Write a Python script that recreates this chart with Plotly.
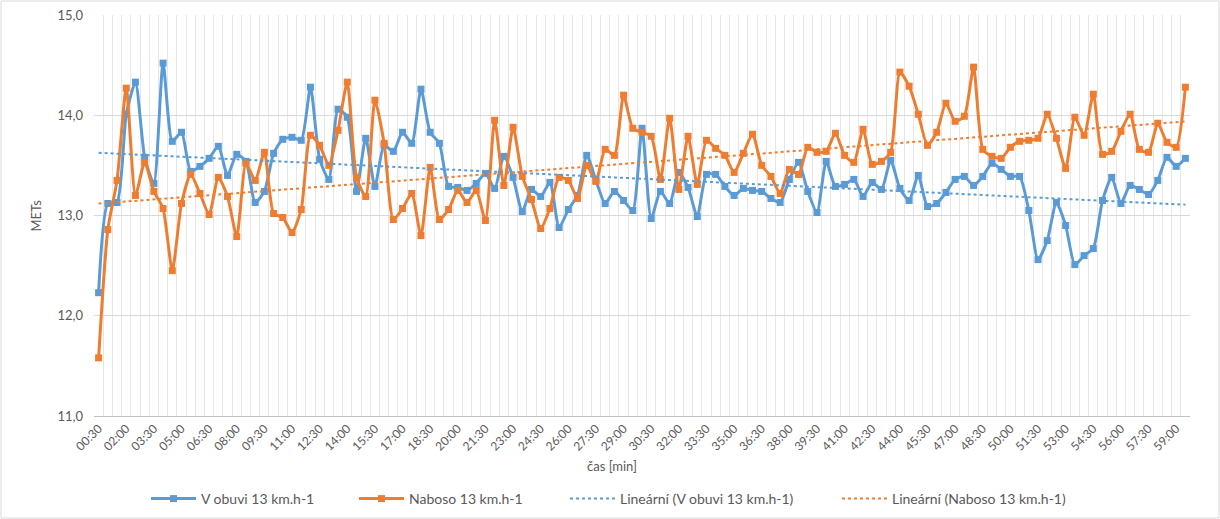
import numpy as np
import plotly.graph_objects as go

# time categories every 30 s from 00:30 to 59:30
times = [f"{(s // 60):02d}:{(s % 60):02d}" for s in range(30, 59 * 60 + 31, 30)]

v_obuvi = [12.23, 13.12, 13.13, 14.01, 14.33, 13.58, 13.32, 14.52, 13.74, 13.83,
           13.44, 13.49, 13.57, 13.69, 13.40, 13.61, 13.54, 13.13, 13.24, 13.62,
           13.76, 13.78, 13.75, 14.28, 13.56, 13.36, 14.06, 13.98, 13.24, 13.77,
           13.29, 13.70, 13.64, 13.83, 13.72, 14.26, 13.83, 13.72, 13.29, 13.28,
           13.25, 13.32, 13.42, 13.27, 13.59, 13.38, 13.04, 13.26, 13.19, 13.33,
           12.88, 13.06, 13.20, 13.60, 13.35, 13.12, 13.24, 13.15, 13.05, 13.87,
           12.97, 13.24, 13.12, 13.43, 13.28, 12.99, 13.41, 13.41, 13.29, 13.20,
           13.27, 13.25, 13.24, 13.17, 13.13, 13.36, 13.53, 13.24, 13.03, 13.54,
           13.29, 13.31, 13.36, 13.19, 13.33, 13.26, 13.55, 13.27, 13.15, 13.40,
           13.09, 13.12, 13.23, 13.36, 13.39, 13.30, 13.39, 13.52, 13.46, 13.39,
           13.39, 13.05, 12.56, 12.75, 13.13, 12.90, 12.51, 12.60, 12.67, 13.15,
           13.38, 13.12, 13.30, 13.26, 13.21, 13.35, 13.58, 13.49, 13.57]

naboso = [11.58, 12.86, 13.35, 14.27, 13.20, 13.53, 13.24, 13.07, 12.45, 13.12,
          13.41, 13.22, 13.01, 13.38, 13.19, 12.79, 13.52, 13.35, 13.63, 13.02,
          12.98, 12.83, 13.06, 13.80, 13.70, 13.50, 13.85, 14.33, 13.38, 13.19,
          14.15, 13.72, 12.96, 13.07, 13.22, 12.80, 13.48, 12.96, 13.06, 13.25,
          13.13, 13.25, 12.95, 13.95, 13.30, 13.88, 13.39, 13.16, 12.87, 13.07,
          13.38, 13.35, 13.17, 13.50, 13.34, 13.66, 13.60, 14.20, 13.87, 13.83,
          13.79, 13.36, 13.97, 13.26, 13.79, 13.31, 13.75, 13.67, 13.60, 13.43,
          13.62, 13.81, 13.50, 13.39, 13.22, 13.46, 13.41, 13.68, 13.63, 13.64,
          13.82, 13.60, 13.53, 13.86, 13.51, 13.54, 13.63, 14.43, 14.29, 14.01,
          13.70, 13.83, 14.12, 13.94, 13.99, 14.48, 13.66, 13.59, 13.57, 13.68,
          13.74, 13.75, 13.77, 14.01, 13.77, 13.47, 13.98, 13.80, 14.21, 13.61,
          13.64, 13.84, 14.01, 13.66, 13.63, 13.92, 13.73, 13.68, 14.28]

y_ticks = [11.0, 12.0, 13.0, 14.0, 15.0]

BLUE = "#5B9BD5"
ORANGE = "#ED7D31"
GRAY_TXT = "#595959"
FONT = "Lato, Calibri, 'Noto Sans', sans-serif"

idx = np.arange(len(times))
tick_idx = idx[::3]
tick_text = [times[i] for i in tick_idx]

def trend(vals):
    k, q = np.polyfit(idx, np.array(vals), 1)
    return k * idx + q

fig = go.Figure()
fig.add_trace(go.Scatter(x=idx, y=v_obuvi, mode="lines+markers",
                         name="V obuvi 13 km.h-1", legend="legend",
                         line=dict(color=BLUE, width=3, shape="spline", smoothing=0.6),
                         marker=dict(symbol="square", size=7, color=BLUE)))
fig.add_trace(go.Scatter(x=idx, y=naboso, mode="lines+markers",
                         name="Naboso 13 km.h-1", legend="legend2",
                         line=dict(color=ORANGE, width=3, shape="spline", smoothing=0.6),
                         marker=dict(symbol="square", size=7, color=ORANGE)))
fig.add_trace(go.Scatter(x=idx, y=trend(v_obuvi), mode="lines",
                         name="Lineární (V obuvi 13 km.h-1)", legend="legend3",
                         line=dict(color=BLUE, width=2, dash="dot")))
fig.add_trace(go.Scatter(x=idx, y=trend(naboso), mode="lines",
                         name="Lineární (Naboso 13 km.h-1)", legend="legend4",
                         line=dict(color=ORANGE, width=2, dash="dot")))

W, H = 1220, 519
ml, mr, mt, mb = 94, 30, 15, 103
pw, ph = W - ml - mr, H - mt - mb


def leg(xpx):
    return dict(orientation="h", xref="container", yref="container",
                x=xpx / W, xanchor="left", y=1 - 499 / H, yanchor="middle",
                font=dict(size=14, color=GRAY_TXT), itemwidth=45,
                bgcolor="rgba(0,0,0,0)", borderwidth=0)


fig.update_layout(
    width=W, height=H,
    margin=dict(l=ml, r=mr, t=mt, b=mb, autoexpand=False),
    paper_bgcolor="white", plot_bgcolor="white",
    separators=", ",
    font=dict(family=FONT, color=GRAY_TXT, size=12),
    showlegend=True,
    legend=leg(146), legend2=leg(354), legend3=leg(565), legend4=leg(837),
    xaxis=dict(range=[-0.5, len(times) - 0.5], tickmode="array", tickvals=tick_idx,
               ticktext=tick_text, tickangle=-45, showgrid=False, zeroline=False,
               showline=True, linecolor="#bfbfbf", linewidth=1, ticks="",
               automargin=False,
               tickfont=dict(size=12, color=GRAY_TXT),
               minor=dict(tickmode="array", tickvals=list(np.arange(len(times) + 1) - 0.5),
                          showgrid=True, gridcolor="#e6e6e6", gridwidth=1, ticks="")),
    yaxis=dict(range=[11, 15], tickmode="array", tickvals=y_ticks, tickformat=".1f",
               showgrid=True, gridcolor="#d9d9d9", gridwidth=1, zeroline=False,
               showline=False, ticks="", automargin=False, ticklabelstandoff=10,
               tickfont=dict(size=13, color=GRAY_TXT)),
    annotations=[
        dict(text="METs", xref="paper", yref="paper", x=(35 - ml) / pw, y=0.5,
             xanchor="center", yanchor="middle", textangle=-90, showarrow=False,
             font=dict(size=13, color=GRAY_TXT)),
        dict(text="čas [min]", xref="paper", yref="paper", x=(612 - ml) / pw,
             y=-(466 - (H - mb)) / ph, xanchor="center", yanchor="middle",
             showarrow=False, font=dict(size=13, color=GRAY_TXT)),
    ],
    shapes=[dict(type="rect", xref="paper", yref="paper",
                 x0=-(ml - 1) / pw, x1=1 + (mr - 1) / pw,
                 y0=-(mb - 1) / ph, y1=1 + (mt - 1) / ph,
                 line=dict(color="#d9d9d9", width=1), fillcolor="rgba(0,0,0,0)")],
)

fig.write_html("out.html", config={"displayModeBar": False},
               post_script="document.body.style.margin='0';document.body.style.padding='0';")
